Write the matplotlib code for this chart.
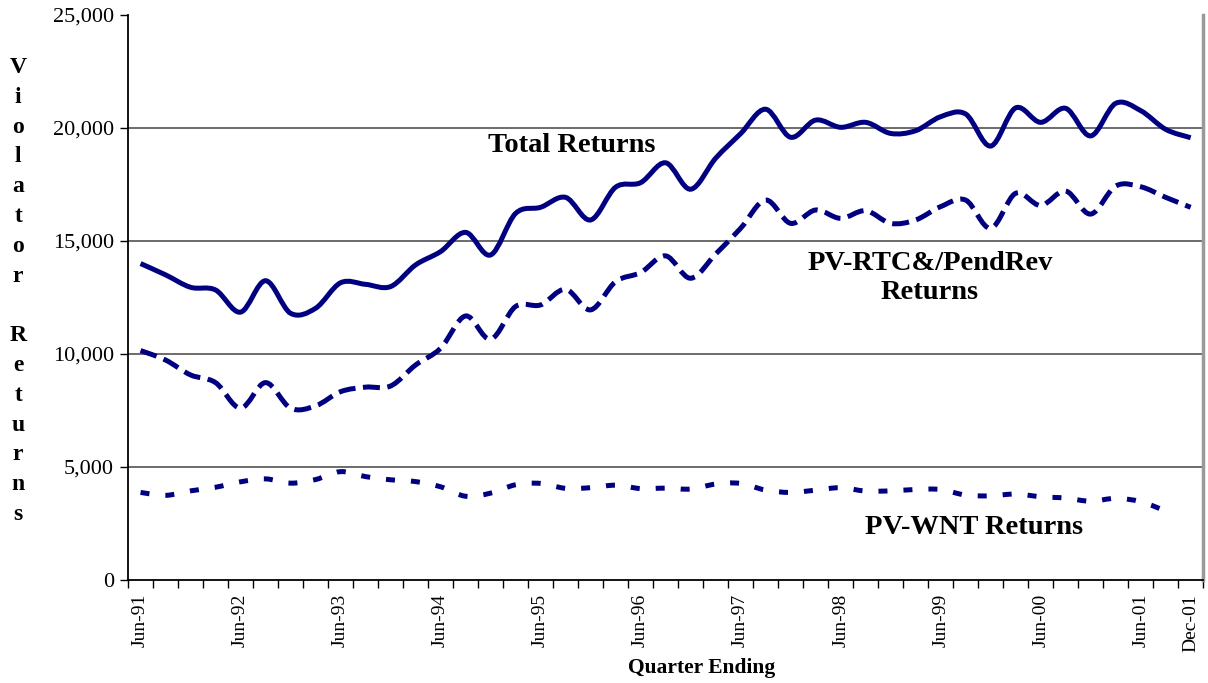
"""Violator returns by quarter, Jun-91 to Dec-01."""

import matplotlib.pyplot as plt
import numpy as np
from matplotlib.patches import PathPatch
from matplotlib.path import Path
from matplotlib.ticker import FuncFormatter

plt.rcParams.update({"font.family": "Liberation Serif"})

NAVY = "#000080"

quarters = [
    "Jun-91", "Sep-91", "Dec-91", "Mar-92", "Jun-92", "Sep-92", "Dec-92", "Mar-93",
    "Jun-93", "Sep-93", "Dec-93", "Mar-94", "Jun-94", "Sep-94", "Dec-94", "Mar-95",
    "Jun-95", "Sep-95", "Dec-95", "Mar-96", "Jun-96", "Sep-96", "Dec-96", "Mar-97",
    "Jun-97", "Sep-97", "Dec-97", "Mar-98", "Jun-98", "Sep-98", "Dec-98", "Mar-99",
    "Jun-99", "Sep-99", "Dec-99", "Mar-00", "Jun-00", "Sep-00", "Dec-00", "Mar-01",
    "Jun-01", "Sep-01", "Dec-01",
]
labelled = [q for q in quarters if q.startswith("Jun")] + ["Dec-01"]

total_returns = [
    14000, 13500, 12950, 12830, 11850, 13240, 11800, 12020, 13150, 13080,
    12980, 13940, 14530, 15380, 14380, 16220, 16490, 16930, 15930, 17380,
    17580, 18460, 17290, 18660, 19750, 20830, 19590, 20350, 20030, 20250,
    19760, 19880, 20500, 20620, 19200, 20890, 20250, 20870, 19650, 21090,
    20770, 19940, 19570,
]
pv_rtc_pendrev = [
    10150, 9730, 9070, 8730, 7600, 8730, 7600, 7700, 8330, 8530,
    8580, 9510, 10250, 11680, 10650, 12100, 12170, 12860, 11950, 13200,
    13600, 14340, 13350, 14420, 15560, 16810, 15780, 16370, 16000, 16340,
    15780, 15930, 16520, 16810, 15560, 17110, 16570, 17210, 16190, 17430,
    17400, 16930, 16490,
]
pv_wnt = [
    3870, 3740, 3940, 4100, 4340, 4470, 4280, 4440, 4790, 4570,
    4430, 4350, 4120, 3700, 3840, 4210, 4270, 4050, 4080, 4190,
    4040, 4060, 4020, 4240, 4270, 3970, 3870, 3970, 4080, 3930,
    3940, 4000, 4000, 3750, 3720, 3800, 3680, 3620, 3480, 3610,
    3460, 3050,
]


def smooth_path(values):
    # Excel-style smoothed line: cubic Bezier through every data point
    pts = np.column_stack([np.arange(len(values)), np.asarray(values, float)])
    n = len(pts)
    verts = [pts[0]]
    codes = [Path.MOVETO]
    for i in range(n - 1):
        p0 = pts[max(i - 1, 0)]
        p1, p2 = pts[i], pts[i + 1]
        p3 = pts[min(i + 2, n - 1)]
        verts += [p1 + (p2 - p0) / 6, p2 - (p3 - p1) / 6, p2]
        codes += [Path.CURVE4] * 3
    return Path(verts, codes)


fig = plt.figure(figsize=(12.08, 6.83), dpi=100)
ax = fig.add_axes([0.106, 0.151, 0.89, 0.827])

for series, style in [
    (total_returns, "-"),
    (pv_rtc_pendrev, (0, (3.4, 1.5))),
    (pv_wnt, (0, (1.8, 3.2))),
]:
    ax.add_patch(PathPatch(smooth_path(series), fill=False, edgecolor=NAVY,
                           lw=3.6, linestyle=style, capstyle="butt", zorder=3))

ax.set_xlim(-0.5, len(quarters) - 0.5)
ax.set_ylim(0, 25000)
yticks = np.arange(0, 25001, 5000)
ax.set_yticks(yticks)
ax.yaxis.set_major_formatter(FuncFormatter(lambda v, _: f"{v:,.0f}"))
ax.tick_params(axis="y", direction="out", length=6, width=1, labelsize=16, pad=4)
for v in yticks[1:-1]:
    ax.axhline(v, color="#444444", lw=1.1, zorder=1)

ax.set_xticks([quarters.index(q) for q in labelled])
ax.set_xticklabels(labelled, rotation=90, fontsize=14)
ax.set_xticks(np.arange(-0.5, len(quarters), 1), minor=True)
ax.tick_params(axis="x", which="major", length=0, pad=10)
ax.tick_params(axis="x", which="minor", direction="out", length=6, width=1)

ax.spines["top"].set_visible(False)
ax.spines["right"].set_color("#999999")
ax.spines["right"].set_linewidth(2.5)
ax.spines["left"].set_linewidth(1.3)
ax.spines["bottom"].set_linewidth(1.3)

ylabel = "\n".join(list("Violator")) + "\n\n" + "\n".join(list("Returns"))
fig.text(0.015, 1 - 291 / 683, ylabel, ha="center", va="center", fontsize=17,
         fontweight="bold", linespacing=1.55)
fig.text(702 / 1208, 1 - 668 / 683, "Quarter Ending", ha="center", va="center",
         fontsize=15.5, fontweight="bold")

fig.text(572 / 1208, 1 - 145 / 683, "Total Returns", ha="center", va="center",
         fontsize=20.5, fontweight="bold")
fig.text(930 / 1208, 1 - 278 / 683, "PV-RTC&/PendRev\nReturns", ha="center",
         va="center", fontsize=20.5, fontweight="bold", linespacing=1.25)
fig.text(974 / 1208, 1 - 527 / 683, "PV-WNT Returns", ha="center", va="center",
         fontsize=20.5, fontweight="bold")

fig.savefig("out.png", dpi=100)
